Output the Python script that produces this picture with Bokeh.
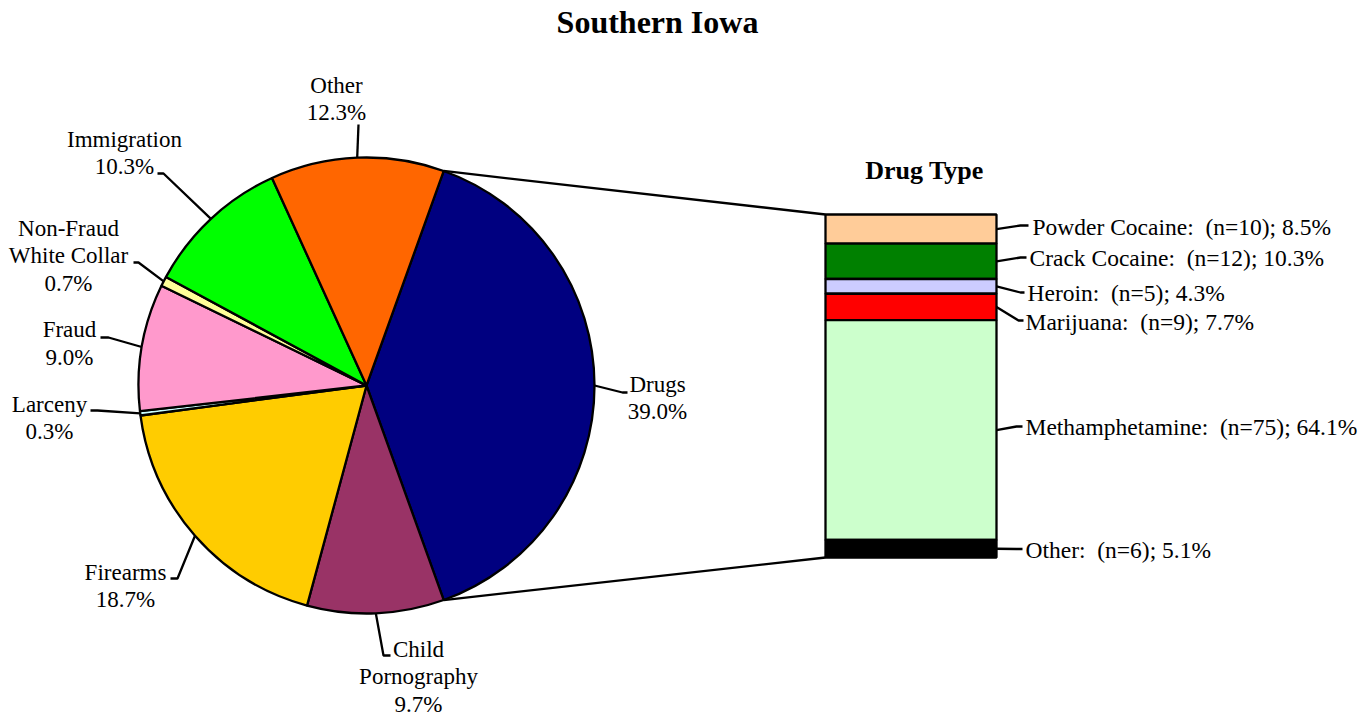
import numpy as np
from bokeh.plotting import figure
from bokeh.models import Range1d
from bokeh.core.properties import value
from bokeh.embed import file_html
from bokeh.resources import INLINE

# ---------------- data ----------------
categories = ["Drugs", "Child Pornography", "Firearms", "Larceny", "Fraud",
              "Non-Fraud White Collar", "Immigration", "Other"]
category_labels = ["Drugs", "Child\nPornography", "Firearms", "Larceny", "Fraud",
                   "Non-Fraud\nWhite Collar", "Immigration", "Other"]
shares = [39.0, 9.7, 18.7, 0.3, 9.0, 0.7, 10.3, 12.3]

drug_types = ["Powder Cocaine", "Crack Cocaine", "Heroin", "Marijuana",
              "Methamphetamine", "Other"]
drug_counts = [10, 12, 5, 9, 75, 6]
drug_shares = [8.5, 10.3, 4.3, 7.7, 64.1, 5.1]

title_text = "Southern Iowa"
bar_title = "Drug Type"

# ---------------- styles / layout ----------------
pie_colors = ["#000080", "#993366", "#FFCC00", "#CCFFFF", "#FF99CC",
              "#FFFF99", "#00FF00", "#FF6600"]
drug_colors = ["#FFCC99", "#008000", "#CCCCFF", "#FF0000", "#CCFFCC", "#000000"]

W, H = 1359, 719
FONT = value("Liberation Serif")
LW = 2.3


def px(x):
    return x


def py(y):
    return H - y


p = figure(width=W, height=H, x_range=Range1d(0, W), y_range=Range1d(0, H),
           output_backend="svg", toolbar_location=None,
           x_axis_type=None, y_axis_type=None, min_border=0)
p.grid.visible = False
p.outline_line_color = None
p.background_fill_color = "white"
p.border_fill_color = "white"

# ---- pie ----
cx, cy, R = px(366), py(385), 228
fr = np.array(shares) / 100.0
start0 = fr[0] * np.pi  # first slice centred on 3 o'clock
cum = np.concatenate([[0], np.cumsum(fr)])
ccw_end = start0 - cum[:-1] * 2 * np.pi
ccw_start = start0 - cum[1:] * 2 * np.pi
mid = (ccw_end + ccw_start) / 2

p.wedge(x=cx, y=cy, radius=R, start_angle=ccw_start, end_angle=ccw_end,
        direction="anticlock", fill_color=pie_colors, line_color="black",
        line_width=LW)

# pie labels
label_pos = [(657, 397.5), (418, 676), (125, 585.5), (49, 417.5),
             (69, 343), (68, 255), (124, 152.5), (336, 98.5)]
leader_elbow = [(622, 392), (383, 655), (177, 578), (97, 410),
                (108, 337), (138, 262), (163, 173), (358, 124)]
leader_end = [(627, 392), (390, 655), (170, 578), (90, 410),
              (100, 337), (133, 262), (157, 173), (358, 124)]

lx, ly = [], []
for i in range(len(shares)):
    ax = cx + R * np.cos(mid[i])
    ay = cy + R * np.sin(mid[i])
    lx.append([ax, px(leader_elbow[i][0]), px(leader_end[i][0])])
    ly.append([ay, py(leader_elbow[i][1]), py(leader_end[i][1])])
p.multi_line(xs=lx, ys=ly, line_color="black", line_width=LW)

p.text(x=[px(a) for a, b in label_pos], y=[py(b) for a, b in label_pos],
       text=[f"{n}\n{s:.1f}%" for n, s in zip(category_labels, shares)],
       text_font=FONT, text_font_size="23px", text_align="center",
       text_baseline="middle", text_line_height=1.1, text_color="black")

# ---- stacked bar ----
bar_left, bar_right = px(825), px(996)
bar_top_px, bar_bot_px = 214, 557
scale = (bar_bot_px - bar_top_px) / 100.0
b0 = py(bar_bot_px)
p.extra_y_ranges = {"bar": Range1d(-b0 / scale, (H - b0) / scale)}

ds = np.array(drug_shares)
tops = 100 - np.concatenate([[0], np.cumsum(ds)[:-1]])
bots = tops - ds
p.quad(left=bar_left, right=bar_right, top=tops, bottom=bots,
       fill_color=drug_colors, line_color="black", line_width=LW,
       y_range_name="bar")

# connectors pie -> bar
top_pt = (cx + R * np.cos(start0), cy + R * np.sin(start0))
bot_pt = (cx + R * np.cos(-start0), cy + R * np.sin(-start0))
p.multi_line(xs=[[top_pt[0], bar_left], [bot_pt[0], bar_left]],
             ys=[[top_pt[1], py(bar_top_px)], [bot_pt[1], py(bar_bot_px)]],
             line_color="black", line_width=LW)

# bar labels
bar_label_pos = [(1032, 226), (1029, 257), (1027, 292), (1025, 321),
                 (1025, 426), (1025, 549)]
bar_elbow = [(1020, 225), (1020, 257), (1020, 292), (1018, 320),
             (1016, 426), (1016, 548.5)]
bar_end = [(1028, 225), (1026, 257), (1024, 292), (1023, 320),
           (1022, 426), (1022, 548.5)]
bmid = (tops + bots) / 2
bx, by = [], []
for i in range(len(drug_shares)):
    bx.append([bar_right, px(bar_elbow[i][0]), px(bar_end[i][0])])
    by.append([b0 + bmid[i] * scale, py(bar_elbow[i][1]), py(bar_end[i][1])])
p.multi_line(xs=bx, ys=by, line_color="black", line_width=LW)

p.text(x=[px(a) for a, b in bar_label_pos], y=[py(b) for a, b in bar_label_pos],
       text=[f"{n}:\u00a0 (n={c}); {s:.1f}%" for n, c, s in
             zip(drug_types, drug_counts, drug_shares)],
       text_font=FONT, text_font_size="23.5px", text_align="left",
       text_baseline="middle", text_color="black")

# titles
p.text(x=[px(657)], y=[py(21)], text=[title_text], text_font=FONT,
       text_font_size="32px", text_font_style="bold", text_align="center",
       text_baseline="middle", text_color="black")
p.text(x=[px(924)], y=[py(170)], text=[bar_title], text_font=FONT,
       text_font_size="26px", text_font_style="bold", text_align="center",
       text_baseline="middle", text_color="black")

open("out.html", "w").write(file_html(p, INLINE))
